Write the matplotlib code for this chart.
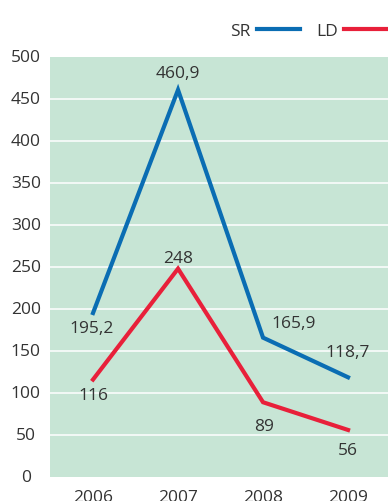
import matplotlib
matplotlib.use("Agg")
import matplotlib.pyplot as plt
from matplotlib.lines import Line2D

years = ["2006", "2007", "2008", "2009"]
sr = [195.2, 460.9, 165.9, 118.7]
ld = [116, 248, 89, 56]
sr_labels = ["195,2", "460,9", "165,9", "118,7"]
ld_labels = ["116", "248", "89", "56"]
yticks = [0, 50, 100, 150, 200, 250, 300, 350, 400, 450, 500]

BLUE = "#0a6db3"
RED = "#e8203a"
BG = "#c7e5d5"
TXT = "#333333"
FONT = "Open Sans"
FS = 12.5

plt.rcParams["font.family"] = [FONT, "DejaVu Sans"]

W, H = 388, 502
fig = plt.figure(figsize=(W / 100, H / 100), dpi=100)
ax = fig.add_axes([50 / W, 24 / H, 338 / W, 420 / H])
ax.set_facecolor(BG)
for s in ax.spines.values():
    s.set_visible(False)

x = list(range(len(years)))
ax.set_xlim(-0.506, 3.47)
ax.set_ylim(0, 500)

for yv in yticks[1:-1]:
    ax.axhline(yv, color="white", lw=1.1, zorder=1)

ax.plot(x, sr, color=BLUE, lw=3.0, zorder=3, solid_joinstyle="miter")
ax.plot(x, ld, color=RED, lw=3.0, zorder=3, solid_joinstyle="miter")

sr_off = [(-1, -15), (0, 17), (31, 15), (0, 25)]
ld_off = [(0, -15), (0, 11), (1, -24), (0, -20)]
for xi, v, lab, (dx, dy) in zip(x, sr, sr_labels, sr_off):
    ax.annotate(lab, (xi, v), xytext=(dx, dy), textcoords="offset pixels",
                ha="center", va="center", fontsize=FS, color=TXT, zorder=4)
for xi, v, lab, (dx, dy) in zip(x, ld, ld_labels, ld_off):
    ax.annotate(lab, (xi, v), xytext=(dx, dy), textcoords="offset pixels",
                ha="center", va="center", fontsize=FS, color=TXT, zorder=4)

ax.set_xticks(x)
ax.set_xticklabels(years, fontsize=FS, color=TXT)
ax.set_yticks(yticks)
ax.set_yticklabels([str(t) for t in yticks], fontsize=FS, color=TXT, ha="center")
ax.tick_params(axis="both", length=0)
ax.tick_params(axis="y", pad=17.5)
ax.tick_params(axis="x", pad=8.5)
for lbl in ax.get_yticklabels():
    lbl.set_va("center")

handles = [Line2D([], [], color=BLUE, lw=3.0), Line2D([], [], color=RED, lw=3.0)]
leg = fig.legend(handles, ["SR", "LD"], ncol=2, frameon=False, markerfirst=False,
                 loc="center right", bbox_to_anchor=(387 / W, 1 - 32 / H),
                 bbox_transform=fig.transFigure, borderpad=0, borderaxespad=0,
                 handlelength=2.5, handletextpad=0.35, columnspacing=0.9,
                 fontsize=FS)
for t in leg.get_texts():
    t.set_color(TXT)

fig.savefig("out.png", dpi=100)
